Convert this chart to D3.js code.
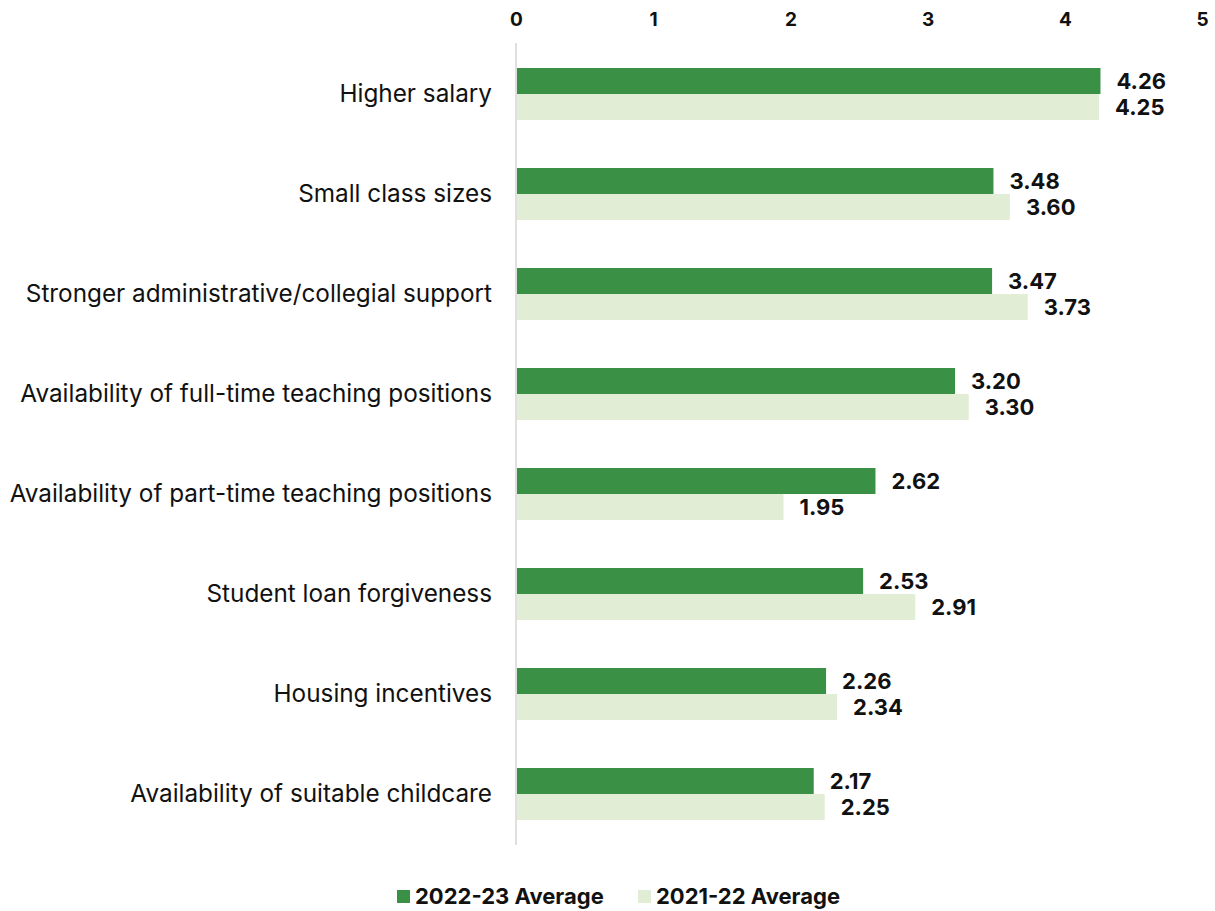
<!DOCTYPE html>
<html><head><meta charset="utf-8">
<script src="https://cdn.jsdelivr.net/npm/d3@7"></script>
<style>body{margin:0;background:#fff}svg{display:block}text{font-family:Inter,"Open Sans",sans-serif}</style>
</head><body><svg id="c" width="1215" height="911"></svg>
<script>
const categories = ["Higher salary","Small class sizes","Stronger administrative/collegial support","Availability of full-time teaching positions","Availability of part-time teaching positions","Student loan forgiveness","Housing incentives","Availability of suitable childcare"];
const series2223 = [4.26,3.48,3.47,3.20,2.62,2.53,2.26,2.17];
const series2122 = [4.25,3.60,3.73,3.30,1.95,2.91,2.34,2.25];
const seriesNames = ["2022-23 Average","2021-22 Average"];
const tickValues = [0,1,2,3,4,5];
const colors = ["#3a9146","#e1eed5"];

const svg = d3.select("#c");
const x = d3.scaleLinear().domain([0,5]).range([516,1202]);
const y = d3.scaleBand().domain(categories).range([44,844]).paddingInner(0.48).paddingOuter(0.24);
const sub = d3.scaleBand().domain([0,1]).range([0,y.bandwidth()]);

const xAxis = d3.axisTop(x).tickValues(tickValues).tickFormat(d3.format("d")).tickSize(0).tickPadding(0);
const gx = svg.append("g").attr("transform","translate(0,26)").call(xAxis);
gx.select(".domain").remove();
gx.selectAll("text").attr("font-size",19).attr("font-weight",700).attr("fill","#111");

svg.append("line").attr("x1",x(0)).attr("x2",x(0)).attr("y1",43).attr("y2",845).attr("stroke","#d4d4d4").attr("stroke-width",1.5);

const data = categories.map((c,i)=>({c, vals:[series2223[i],series2122[i]]}));
const g = svg.append("g").selectAll("g").data(data).join("g").attr("transform",d=>`translate(0,${y(d.c)})`);
g.selectAll("rect").data(d=>d.vals).join("rect")
  .attr("x",x(0)+1).attr("y",(d,i)=>sub(i)).attr("height",sub.bandwidth())
  .attr("width",d=>x(d)-x(0)-1).attr("fill",(d,i)=>colors[i]);
g.selectAll("text.v").data(d=>d.vals).join("text").attr("class","v")
  .attr("x",d=>x(d)+16).attr("y",(d,i)=>sub(i)+sub.bandwidth()/2).attr("dy","0.36em")
  .attr("font-size",22).attr("font-weight",700).attr("fill","#111").text(d=>d3.format(".2f")(d));

const yAxis = d3.axisLeft(y).tickSize(0).tickPadding(0);
const gy = svg.append("g").attr("transform","translate(492,0)").call(yAxis);
gy.select(".domain").remove();
gy.selectAll("text").attr("font-size",24.3).attr("fill","#111").attr("font-family","Inter,'Open Sans',sans-serif");

const leg = svg.append("g").selectAll("g").data(seriesNames).join("g")
  .attr("transform",(d,i)=>`translate(${[397,638][i]},890)`);
leg.append("rect").attr("width",13).attr("height",13).attr("fill",(d,i)=>colors[i]);
leg.append("text").attr("x",18).attr("y",6.5).attr("dy","0.36em").attr("font-size",22).attr("font-weight",700).attr("fill","#111").text(d=>d);
</script></body></html>
